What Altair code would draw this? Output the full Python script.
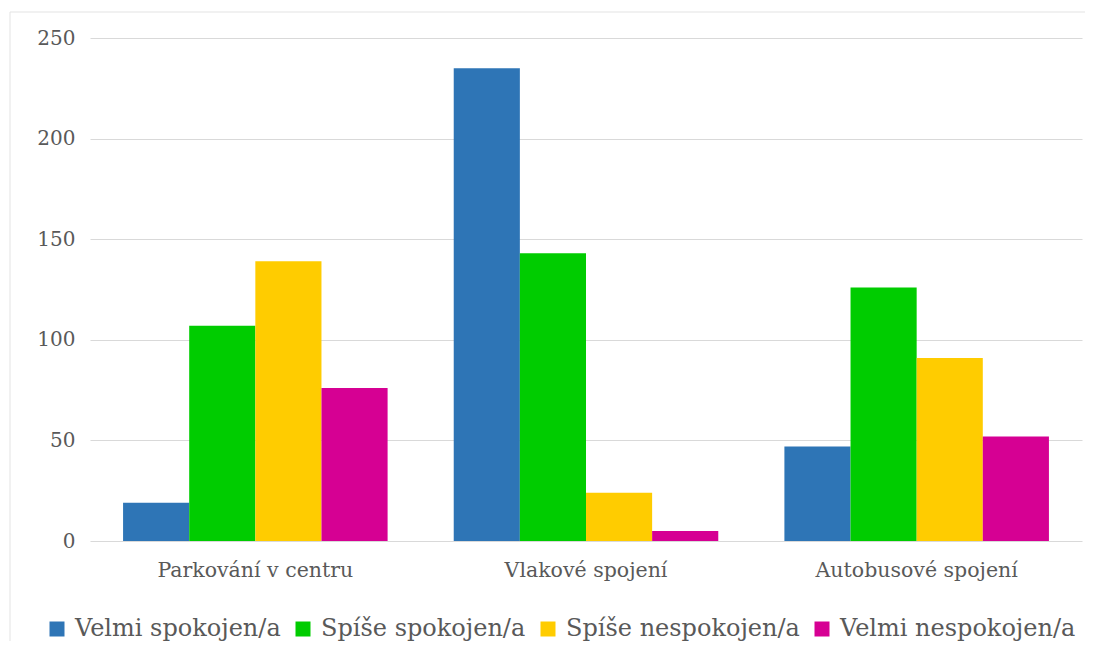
import altair as alt
import pandas as pd

categories = ["Parkování v centru", "Vlakové spojení", "Autobusové spojení"]
series = ["Velmi spokojen/a", "Spíše spokojen/a", "Spíše nespokojen/a", "Velmi nespokojen/a"]
velmi_spokojen = [19, 235, 47]
spise_spokojen = [107, 143, 126]
spise_nespokojen = [139, 24, 91]
velmi_nespokojen = [76, 5, 52]
colors = ["#2E75B6", "#00CC00", "#FFCC00", "#D60093"]
y_ticks = [0, 50, 100, 150, 200, 250]

rows = []
for s, vals in zip(series, [velmi_spokojen, spise_spokojen, spise_nespokojen, velmi_nespokojen]):
    for c, v in zip(categories, vals):
        rows.append({"kategorie": c, "serie": s, "pocet": v})
df = pd.DataFrame(rows)

FONT = "DejaVu Serif"
GREY = "#595959"

bars = alt.Chart(df).mark_bar().encode(
    x=alt.X("kategorie:N", sort=categories, title=None,
            scale=alt.Scale(paddingInner=0.2, paddingOuter=0.1),
            axis=alt.Axis(labelAngle=0, labelFont=FONT, labelFontSize=20.5, labelColor=GREY,
                          labelLimit=500, domain=False, ticks=False, labelPadding=19, grid=False)),
    xOffset=alt.XOffset("serie:N", sort=series, scale=alt.Scale(paddingInner=0, paddingOuter=0)),
    y=alt.Y("pocet:Q", title=None,
            scale=alt.Scale(domain=[0, 250], nice=False),
            axis=alt.Axis(values=y_ticks, labelFont=FONT, labelFontSize=20, labelColor=GREY,
                          domain=False, ticks=False, labelPadding=15,
                          grid=True, gridColor="#D9D9D9", gridWidth=1)),
    color=alt.Color("serie:N", sort=series, scale=alt.Scale(domain=series, range=colors),
                    legend=alt.Legend(title=None, orient="none", direction="horizontal",
                                      legendX=-45, legendY=579,
                                      symbolType="square", symbolSize=225, symbolStrokeWidth=0,
                                      labelFont=FONT, labelFontSize=24, labelColor=GREY,
                                      columnPadding=10, labelOffset=6, labelLimit=500)),
)

frame = pd.DataFrame({"k": [0]})
top_line = alt.Chart(frame).mark_rule(color="#E3E3E3", strokeWidth=1).encode(
    x=alt.value(-80), x2=alt.value(995), y=alt.value(-26)
)
left_line = alt.Chart(frame).mark_rule(color="#E3E3E3", strokeWidth=1).encode(
    x=alt.value(-80), y=alt.value(-26), y2=alt.value(620)
)

chart = alt.layer(bars, top_line, left_line).properties(
    width=992, height=503,
    autosize=alt.AutoSizeParams(type="none"),
    padding={"left": 82, "top": 30, "right": 3, "bottom": 100},
).configure(background="white").configure_view(stroke=None)

chart.save("out.html", embed_options={"renderer": "svg", "actions": False})
